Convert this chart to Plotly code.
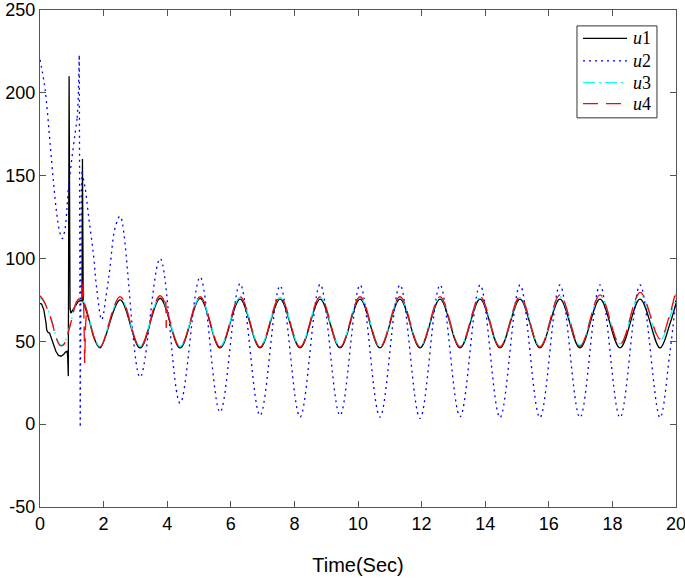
import plotly.graph_objects as go

# Extreme points of the steady oscillation (troughs / peaks), shared time grid
T_EXT = [1.89, 2.52, 3.148, 3.777, 4.405, 5.035, 5.663, 6.29, 6.92, 7.55,
         8.178, 8.81, 9.435, 10.065, 10.69, 11.32, 11.95, 12.58, 13.21, 13.84,
         14.465, 15.095, 15.72, 16.35, 16.98, 17.61, 18.24, 18.87, 19.495, 19.8, 20.0]

# u1 - start-up part with the switching spikes
U1_HEAD_T = [0, 0.05, 0.12, 0.17, 0.19, 0.21, 0.25, 0.30, 0.34, 0.42, 0.50, 0.58,
             0.66, 0.74, 0.80, 0.85, 0.87, 0.89, 0.905, 0.915, 0.93, 0.945, 0.97,
             1.0, 1.07, 1.14, 1.20, 1.26, 1.32, 1.335, 1.345, 1.36, 1.40]
U1_HEAD = [73, 72.5, 69, 64, 61, 57, 55.5, 55, 53, 48, 44, 41.5,
           41, 42, 43.5, 44, 41, 29, 120, 210, 140, 70, 67,
           68, 70.5, 72.5, 74, 74.5, 74.5, 160, 74, 73.2, 71.6]
U1_TAIL_T = [1.40, 1.55, 1.72]
U1_TAIL = [71.6, 62.5, 51]
U1_EXT = [46, 75, 46, 76, 46, 76, 46, 75.5, 46, 75.5, 46, 75.5, 46, 75.5, 46, 75.5,
          46, 75.5, 46, 75.5, 46, 75.5, 46, 75.5, 46, 75.5, 46, 75.5, 46, 60, 73]

# u2
U2_HEAD_T = [0, 0.08, 0.16, 0.24, 0.31, 0.42, 0.52, 0.62, 0.70, 0.78, 0.84, 0.89,
             1.0, 1.1, 1.17]
U2_HEAD = [220, 212, 202, 187, 171, 147, 128, 116, 112, 117, 128, 142,
           160, 175, 185]
U2_SPIKE_T = [1.17, 1.20, 1.235, 1.265, 1.30, 1.32]
U2_SPIKE = [185, 195, 223, -2, 140, 152]
U2_TAIL_T = [1.32, 1.42, 1.52, 1.68, 1.78, 1.94, 2.1, 2.2, 2.36]
U2_TAIL = [152, 142.5, 126.7, 102.6, 82.4, 63, 80.4, 94.4, 118.4]
U2_EXT = [125.5, 28.3, 100, 12.7, 88.8, 7.3, 84.8, 5.3, 83.5, 4.3, 84.4, 5.3, 84, 4.3,
          84, 3.5, 84, 4.5, 84, 4, 84, 4, 84, 4, 84, 4, 84, 4, 42, 76]

# u3
U3_HEAD_T = [0, 0.1, 0.2, 0.31, 0.4, 0.47, 0.55, 0.63, 0.72, 0.79, 0.89, 1.0,
             1.08, 1.15, 1.27, 1.40, 1.55, 1.72]
U3_HEAD = [76.5, 74.5, 71, 66, 60.5, 55, 50.5, 48, 48, 50, 56, 64,
           70, 74, 76.4, 73, 63.5, 52]
U3_EXT = [47, 76.5, 47, 77, 47, 76.5, 47, 76.5, 47, 76.5, 47, 76.5, 47, 76.5, 47, 76.5,
          47, 76.5, 47, 76.5, 47, 76.5, 47, 77, 47.5, 77.5, 48.5, 78.5, 50.5, 64, 79]

# u4
U4_HEAD_T = [0, 0.1, 0.2, 0.31, 0.4, 0.47, 0.55, 0.63, 0.72, 0.79, 0.89, 1.0,
             1.08, 1.15, 1.27, 1.40, 1.55, 1.72]
U4_HEAD = [77.5, 75, 71, 65.5, 60, 54.5, 50, 47.5, 47.5, 49.5, 55.5, 63.5,
           70, 74, 76, 72.5, 63, 51.5]
U4_EXT = [46.5, 77, 46.5, 77.5, 46.5, 77, 46.5, 77, 46.5, 77, 46.5, 77, 46.5, 77, 46.5, 77,
          46.5, 77, 46.5, 77, 46.5, 77, 46.5, 78, 47, 78, 48, 79.5, 51.5, 66, 81]
U4_SPIKE_T = [1.32, 1.345, 1.36, 1.385, 1.405, 1.43, 1.46]
U4_SPIKE = [75.5, 80, 88, 60, 37, 58, 68.5]
U4_GLITCH_T = [3.945, 3.958, 3.968, 3.978, 3.99]
U4_GLITCH = [72, 74, 58, 69.5, 69]

X_TICKS = [0, 2, 4, 6, 8, 10, 12, 14, 16, 18, 20]
Y_TICKS = [-50, 0, 50, 100, 150, 200, 250]

SERIES_NAMES = ["1", "2", "3", "4"]
SERIES_COLORS = ["#000000", "#0000FF", "#00FFFF", "#FF0000"]
SERIES_DASH = ["solid", "2px,4px", "12px,4px,2px,4px", "15px,8px"]

AXIS_COLOR = "#555555"
LW = 1.3


def join(*segments):
    """Concatenate (t, v) segments, separated by gaps."""
    xs, ys = [], []
    for t, v in segments:
        if xs:
            xs.append(None)
            ys.append(None)
        xs += list(t)
        ys += list(v)
    return xs, ys


def add_series(fig, idx, spline_parts, linear_parts):
    color, dash = SERIES_COLORS[idx], SERIES_DASH[idx]
    x, y = join(*spline_parts)
    fig.add_trace(go.Scatter(
        x=x, y=y, mode="lines", name="u" + SERIES_NAMES[idx], showlegend=False,
        line=dict(color=color, width=LW, dash=dash, shape="spline", smoothing=1),
    ))
    for t, v in linear_parts:
        fig.add_trace(go.Scatter(
            x=t, y=v, mode="lines", showlegend=False, hoverinfo="skip",
            line=dict(color=color, width=LW, dash=dash),
        ))


fig = go.Figure()

add_series(fig, 0, [(U1_TAIL_T + T_EXT, U1_TAIL + U1_EXT)], [(U1_HEAD_T, U1_HEAD)])
add_series(fig, 1, [(U2_HEAD_T, U2_HEAD), (U2_TAIL_T + T_EXT[1:], U2_TAIL + U2_EXT)],
           [(U2_SPIKE_T, U2_SPIKE)])
add_series(fig, 2, [(U3_HEAD_T + T_EXT, U3_HEAD + U3_EXT)], [])
add_series(fig, 3, [(U4_HEAD_T + T_EXT, U4_HEAD + U4_EXT)],
           [(U4_SPIKE_T, U4_SPIKE), (U4_GLITCH_T, U4_GLITCH)])

# legend box drawn by hand (MATLAB style: long samples, latex-like labels)
shapes = [dict(type="rect", xref="x domain", yref="y domain",
               x0=0.8443, x1=0.9701, y0=0.7830, y1=0.9680,
               line=dict(color="#333333", width=1), fillcolor="white", layer="above")]
annotations = []
row_y = [0.9430, 0.8975, 0.8540, 0.8115]
for i, yy in enumerate(row_y):
    shapes.append(dict(type="line", xref="x domain", yref="y domain",
                       x0=0.8538, x1=0.9230, y0=yy, y1=yy, layer="above",
                       line=dict(color=SERIES_COLORS[i], width=LW, dash=SERIES_DASH[i])))
    annotations.append(dict(xref="x domain", yref="y domain", x=0.9300, y=yy,
                            xanchor="left", yanchor="middle", showarrow=False,
                            text="<i>u</i>" + SERIES_NAMES[i],
                            font=dict(family="Liberation Serif, Times New Roman, serif",
                                      size=18, color="black")))

axis_style = dict(
    showline=True, linecolor=AXIS_COLOR, linewidth=1.3, mirror="ticks",
    ticks="inside", ticklen=6, tickwidth=1, tickcolor=AXIS_COLOR,
    showgrid=False, zeroline=False, ticklabeloverflow="allow", automargin=False,
)

fig.update_xaxes(range=[0, 20], tickvals=X_TICKS, ticktext=[str(v) for v in X_TICKS],
                 title=dict(text="Time(Sec)", font=dict(size=20), standoff=25),
                 **axis_style)
fig.update_yaxes(range=[-50, 250], tickvals=Y_TICKS, ticktext=[str(v) for v in Y_TICKS],
                 **axis_style)

fig.update_layout(
    width=685,
    height=580,
    margin=dict(l=40, r=9, t=10, b=73),
    plot_bgcolor="white",
    paper_bgcolor="white",
    font=dict(family="Liberation Sans, Arial, sans-serif", size=18, color="black"),
    showlegend=False,
    shapes=shapes,
    annotations=annotations,
)

fig.write_html("out.html", config={"displayModeBar": False},
               post_script="document.body.style.margin='0';")
